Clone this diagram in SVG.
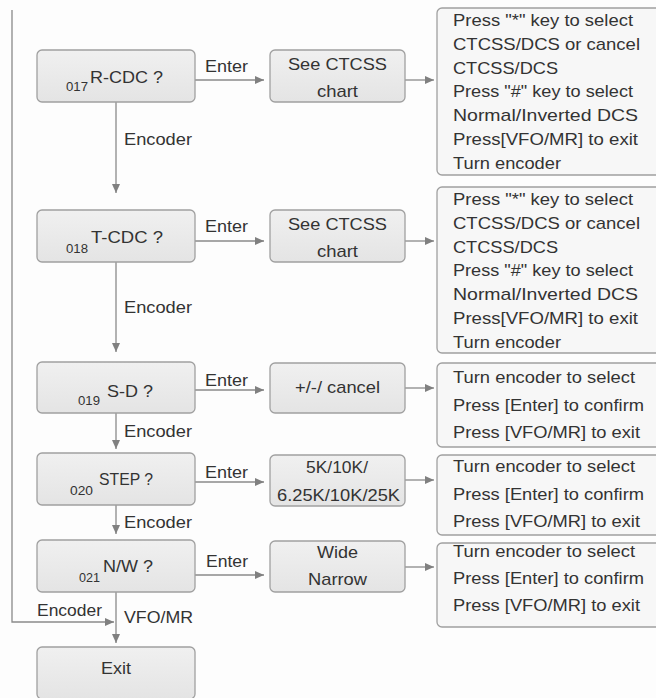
<svg xmlns="http://www.w3.org/2000/svg" width="656" height="698" viewBox="0 0 656 698">
<defs>
<marker id="ah" markerWidth="9" markerHeight="8" refX="9" refY="4" orient="auto" markerUnits="userSpaceOnUse">
<path d="M0,0 L9,4 L0,8 Z" fill="#808080"/>
</marker>
<linearGradient id="g" x1="0" y1="0" x2="0" y2="1">
<stop offset="0" stop-color="#f0f0f0"/>
<stop offset="1" stop-color="#e4e4e4"/>
</linearGradient>
</defs>
<style>
.bx{fill:url(#g);stroke:#a0a0a0;stroke-width:1.3}
.rb{fill:#f7f7f7;stroke:#a0a0a0;stroke-width:1.3}
.t{font-family:"Liberation Sans",Arial,sans-serif;font-size:17px;fill:#333}
.s{font-family:"Liberation Sans",Arial,sans-serif;font-size:13px;fill:#333}
.ln{fill:none;stroke:#8a8a8a;stroke-width:1.3}
</style>
<rect width="656" height="698" fill="#fdfdfd"/>
<g id="connectors">
<path class="ln" d="M195,80 H264" marker-end="url(#ah)"/>
<path class="ln" d="M405,80 H434" marker-end="url(#ah)"/>
<path class="ln" d="M116,102 V193" marker-end="url(#ah)"/>
<path class="ln" d="M195,241 H264" marker-end="url(#ah)"/>
<path class="ln" d="M405,241 H434" marker-end="url(#ah)"/>
<path class="ln" d="M116,262 V352" marker-end="url(#ah)"/>
<path class="ln" d="M195,390 H264" marker-end="url(#ah)"/>
<path class="ln" d="M405,388 H434" marker-end="url(#ah)"/>
<path class="ln" d="M116,413 V449" marker-end="url(#ah)"/>
<path class="ln" d="M195,482 H264" marker-end="url(#ah)"/>
<path class="ln" d="M405,480 H434" marker-end="url(#ah)"/>
<path class="ln" d="M116,505 V534" marker-end="url(#ah)"/>
<path class="ln" d="M195,575 H264" marker-end="url(#ah)"/>
<path class="ln" d="M405,567 H434" marker-end="url(#ah)"/>
<path class="ln" d="M116,592 V643" marker-end="url(#ah)"/>
<path class="ln" d="M12,10 V622 H114" marker-end="url(#ah)"/>
<text class="t" x="205" y="72" textLength="43" lengthAdjust="spacingAndGlyphs">Enter</text>
<text class="t" x="124" y="145" textLength="68" lengthAdjust="spacingAndGlyphs">Encoder</text>
<text class="t" x="205" y="232" textLength="43" lengthAdjust="spacingAndGlyphs">Enter</text>
<text class="t" x="124" y="313" textLength="68" lengthAdjust="spacingAndGlyphs">Encoder</text>
<text class="t" x="205" y="386" textLength="43" lengthAdjust="spacingAndGlyphs">Enter</text>
<text class="t" x="124" y="437" textLength="68" lengthAdjust="spacingAndGlyphs">Encoder</text>
<text class="t" x="205" y="478" textLength="43" lengthAdjust="spacingAndGlyphs">Enter</text>
<text class="t" x="124" y="528" textLength="68" lengthAdjust="spacingAndGlyphs">Encoder</text>
<text class="t" x="206" y="567" textLength="42" lengthAdjust="spacingAndGlyphs">Enter</text>
<text class="t" x="37" y="616" textLength="65" lengthAdjust="spacingAndGlyphs">Encoder</text>
<text class="t" x="124" y="623" textLength="69" lengthAdjust="spacingAndGlyphs">VFO/MR</text>
</g>
<g id="n017">
<rect class="bx" x="37" y="50" width="158" height="52" rx="5"/>
<text class="s" x="66" y="91" textLength="22" lengthAdjust="spacingAndGlyphs">017</text>
<text class="t" x="90" y="83" textLength="73" lengthAdjust="spacingAndGlyphs">R-CDC ?</text>
</g>
<g id="m017">
<rect class="bx" x="270" y="50" width="135" height="52" rx="5"/>
<text class="t" x="288" y="70" textLength="99" lengthAdjust="spacingAndGlyphs">See CTCSS</text>
<text class="t" x="317" y="97" textLength="41" lengthAdjust="spacingAndGlyphs">chart</text>
</g>
<g id="r017">
<rect class="rb" x="437" y="8" width="235" height="167" rx="5"/>
<text class="t" x="453" y="26" textLength="180" lengthAdjust="spacingAndGlyphs">Press "*" key to select</text>
<text class="t" x="453" y="49.8" textLength="187" lengthAdjust="spacingAndGlyphs">CTCSS/DCS or cancel</text>
<text class="t" x="453" y="73.6" textLength="105" lengthAdjust="spacingAndGlyphs">CTCSS/DCS</text>
<text class="t" x="453" y="97.4" textLength="180" lengthAdjust="spacingAndGlyphs">Press "#" key to select</text>
<text class="t" x="453" y="121.2" textLength="185" lengthAdjust="spacingAndGlyphs">Normal/Inverted DCS</text>
<text class="t" x="453" y="145" textLength="185" lengthAdjust="spacingAndGlyphs">Press[VFO/MR] to exit</text>
<text class="t" x="453" y="168.8" textLength="108" lengthAdjust="spacingAndGlyphs">Turn encoder</text>
</g>
<g id="n018">
<rect class="bx" x="37" y="210" width="158" height="52" rx="5"/>
<text class="s" x="66" y="253" textLength="22" lengthAdjust="spacingAndGlyphs">018</text>
<text class="t" x="91" y="243" textLength="72" lengthAdjust="spacingAndGlyphs">T-CDC ?</text>
</g>
<g id="m018">
<rect class="bx" x="270" y="210" width="135" height="52" rx="5"/>
<text class="t" x="288" y="230" textLength="99" lengthAdjust="spacingAndGlyphs">See CTCSS</text>
<text class="t" x="317" y="257" textLength="41" lengthAdjust="spacingAndGlyphs">chart</text>
</g>
<g id="r018">
<rect class="rb" x="437" y="187" width="235" height="166" rx="5"/>
<text class="t" x="453" y="205" textLength="180" lengthAdjust="spacingAndGlyphs">Press "*" key to select</text>
<text class="t" x="453" y="228.7" textLength="187" lengthAdjust="spacingAndGlyphs">CTCSS/DCS or cancel</text>
<text class="t" x="453" y="252.5" textLength="105" lengthAdjust="spacingAndGlyphs">CTCSS/DCS</text>
<text class="t" x="453" y="276.2" textLength="180" lengthAdjust="spacingAndGlyphs">Press "#" key to select</text>
<text class="t" x="453" y="300" textLength="185" lengthAdjust="spacingAndGlyphs">Normal/Inverted DCS</text>
<text class="t" x="453" y="323.7" textLength="185" lengthAdjust="spacingAndGlyphs">Press[VFO/MR] to exit</text>
<text class="t" x="453" y="347.5" textLength="108" lengthAdjust="spacingAndGlyphs">Turn encoder</text>
</g>
<g id="n019">
<rect class="bx" x="37" y="362" width="158" height="51" rx="5"/>
<text class="s" x="78" y="405" textLength="22" lengthAdjust="spacingAndGlyphs">019</text>
<text class="t" x="107" y="397" textLength="46" lengthAdjust="spacingAndGlyphs">S-D ?</text>
</g>
<g id="m019">
<rect class="bx" x="270" y="363" width="135" height="50" rx="5"/>
<text class="t" x="295" y="393" textLength="85" lengthAdjust="spacingAndGlyphs">+/-/ cancel</text>
</g>
<g id="r019">
<rect class="rb" x="437" y="363" width="235" height="84" rx="5"/>
<text class="t" x="453" y="383" textLength="182" lengthAdjust="spacingAndGlyphs">Turn encoder to select</text>
<text class="t" x="453" y="411" textLength="191" lengthAdjust="spacingAndGlyphs">Press [Enter] to confirm</text>
<text class="t" x="453" y="438" textLength="187" lengthAdjust="spacingAndGlyphs">Press [VFO/MR] to exit</text>
</g>
<g id="n020">
<rect class="bx" x="37" y="453" width="158" height="52" rx="5"/>
<text class="s" x="70" y="495" textLength="23" lengthAdjust="spacingAndGlyphs">020</text>
<text class="t" x="99" y="485" textLength="54" lengthAdjust="spacingAndGlyphs">STEP ?</text>
</g>
<g id="m020">
<rect class="bx" x="270" y="455" width="135" height="51" rx="5"/>
<text class="t" x="306" y="473" textLength="62" lengthAdjust="spacingAndGlyphs">5K/10K/</text>
<text class="t" x="277" y="501" textLength="123" lengthAdjust="spacingAndGlyphs">6.25K/10K/25K</text>
</g>
<g id="r020">
<rect class="rb" x="437" y="455" width="235" height="80" rx="5"/>
<text class="t" x="453" y="472" textLength="182" lengthAdjust="spacingAndGlyphs">Turn encoder to select</text>
<text class="t" x="453" y="500" textLength="191" lengthAdjust="spacingAndGlyphs">Press [Enter] to confirm</text>
<text class="t" x="453" y="527" textLength="187" lengthAdjust="spacingAndGlyphs">Press [VFO/MR] to exit</text>
</g>
<g id="n021">
<rect class="bx" x="37" y="540" width="158" height="52" rx="5"/>
<text class="s" x="79" y="582" textLength="21" lengthAdjust="spacingAndGlyphs">021</text>
<text class="t" x="103" y="572" textLength="50" lengthAdjust="spacingAndGlyphs">N/W ?</text>
</g>
<g id="m021">
<rect class="bx" x="270" y="541" width="135" height="51" rx="5"/>
<text class="t" x="317" y="558" textLength="41" lengthAdjust="spacingAndGlyphs">Wide</text>
<text class="t" x="308" y="585" textLength="59" lengthAdjust="spacingAndGlyphs">Narrow</text>
</g>
<g id="r021">
<rect class="rb" x="437" y="543" width="235" height="84" rx="5"/>
<text class="t" x="453" y="557" textLength="182" lengthAdjust="spacingAndGlyphs">Turn encoder to select</text>
<text class="t" x="453" y="584" textLength="191" lengthAdjust="spacingAndGlyphs">Press [Enter] to confirm</text>
<text class="t" x="453" y="611" textLength="187" lengthAdjust="spacingAndGlyphs">Press [VFO/MR] to exit</text>
</g>
<g id="exit">
<rect class="bx" x="37" y="647" width="158" height="52" rx="5"/>
<text class="t" x="101" y="674" textLength="30" lengthAdjust="spacingAndGlyphs">Exit</text>
</g>
</svg>
